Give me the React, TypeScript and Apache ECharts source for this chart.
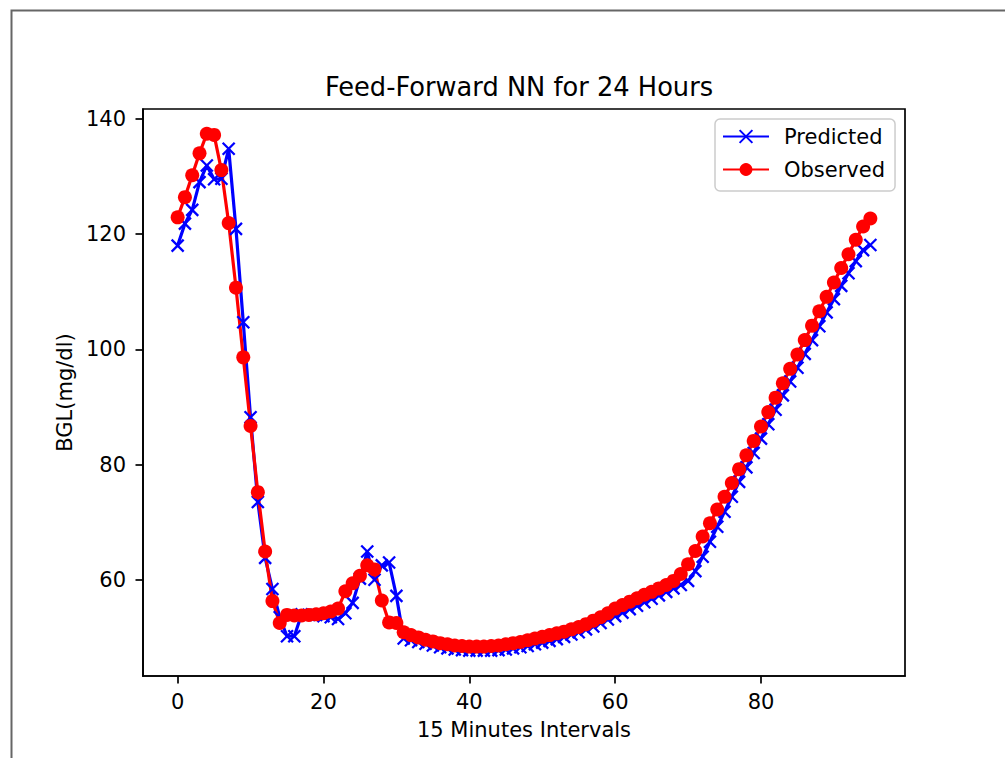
import React, { useEffect, useRef } from "react";
import * as echarts from "echarts";

const intervals: number[] = Array.from({ length: 96 }, (_, i) => i);

const predicted: number[] = [
  118.0, 121.8, 124.2, 129.0, 131.9, 129.5, 129.6, 134.8, 120.9, 104.7,
  88.2, 73.5, 63.8, 58.4, 53.5, 50.2, 50.2, 54.0, 53.9, 53.9,
  53.7, 53.5, 53.2, 54.2, 56.0, 60.2, 64.9, 60.0, 62.5, 63.0,
  57.2, 49.8, 49.5, 49.2, 48.9, 48.6, 48.3, 48.1, 47.9, 47.8,
  47.7, 47.7, 47.7, 47.7, 47.8, 47.9, 48.1, 48.3, 48.5, 48.8,
  49.1, 49.4, 49.7, 50.1, 50.5, 50.9, 51.4, 51.9, 52.5, 53.1,
  53.7, 54.3, 54.9, 55.5, 56.1, 56.7, 57.3, 57.9, 58.5, 59.1,
  59.8, 61.5, 64.0, 66.6, 69.2, 71.8, 74.4, 77.0, 79.5, 82.0,
  84.5, 87.0, 89.5, 92.0, 94.4, 96.8, 99.2, 101.6, 104.0, 106.4,
  108.7, 111.0, 113.2, 115.3, 117.2, 118.1,
];

const observed: number[] = [
  122.9, 126.4, 130.2, 134.0, 137.4, 137.2, 131.1, 121.9, 110.7, 98.6,
  86.7, 75.2, 64.9, 56.3, 52.5, 53.9, 53.8, 53.8, 53.9, 54.0,
  54.2, 54.5, 55.0, 58.0, 59.4, 60.7, 62.5, 61.8, 56.4, 52.6,
  52.5, 50.9, 50.4, 50.0, 49.6, 49.3, 49.0, 48.8, 48.6, 48.5,
  48.4, 48.4, 48.4, 48.5, 48.6, 48.8, 49.0, 49.2, 49.5, 49.8,
  50.1, 50.4, 50.7, 51.0, 51.4, 51.8, 52.3, 52.9, 53.5, 54.2,
  55.0, 55.6, 56.2, 56.8, 57.4, 57.9, 58.5, 59.1, 59.8, 61.0,
  62.7, 65.0, 67.5, 69.8, 72.2, 74.4, 76.8, 79.2, 81.6, 84.1,
  86.6, 89.1, 91.6, 94.1, 96.6, 99.1, 101.6, 104.1, 106.6, 109.1,
  111.6, 114.1, 116.5, 119.0, 121.3, 122.7,
];

const xTicks: number[] = [0, 20, 40, 60, 80];
const yTicks: number[] = [60, 80, 100, 120, 140];

const FONT = "DejaVu Sans";
const X_SYMBOL = "path://M0,0L10,10M10,0L0,10";

export default function App() {
  const ref = useRef<HTMLDivElement>(null);

  useEffect(() => {
    if (!ref.current) return;
    const chart = echarts.init(ref.current, undefined, { renderer: "svg" });
    const axisCommon = {
      axisLine: { show: true, onZero: false, lineStyle: { color: "#000", width: 1.7 } },
      axisTick: { show: true, length: 7.5, lineStyle: { color: "#000", width: 1.7 } },
      splitLine: { show: false },
      nameTextStyle: { fontFamily: FONT, fontSize: 21, color: "#000" },
    };
    chart.setOption({
      animation: false,
      backgroundColor: "#fff",
      textStyle: { fontFamily: FONT },
      title: {
        text: "Feed-Forward NN for 24 Hours",
        left: 514,
        top: 69,
        textAlign: "center",
        textStyle: { fontFamily: FONT, fontSize: 25.7, fontWeight: "normal", color: "#000" },
      },
      grid: {
        left: 143,
        top: 109,
        width: 762,
        height: 567,
        show: true,
        borderColor: "#000",
        borderWidth: 1.7,
        backgroundColor: "#fff",
        containLabel: false,
      },
      legend: {
        orient: "vertical",
        left: 715,
        top: 119,
        padding: [7, 10, 11, 7],
        itemWidth: 46,
        itemHeight: 16,
        itemGap: 12,
        backgroundColor: "rgba(255,255,255,0.8)",
        borderColor: "#cccccc",
        borderWidth: 1.5,
        borderRadius: 5,
        textStyle: { fontFamily: FONT, fontSize: 21, color: "#000", padding: [0, 0, 0, 10] },
        data: ["Predicted", "Observed"],
      },
      xAxis: {
        type: "value",
        min: -4.75,
        max: 99.75,
        name: "15 Minutes Intervals",
        nameLocation: "middle",
        nameGap: 43,
        ...axisCommon,
        axisTick: { ...axisCommon.axisTick, customValues: xTicks },
        axisLabel: {
          customValues: xTicks,
          margin: 15,
          fontFamily: FONT,
          fontSize: 21,
          color: "#000",
        },
      },
      yAxis: {
        type: "value",
        min: 43.3,
        max: 141.7,
        name: "BGL(mg/dl)",
        nameLocation: "middle",
        nameGap: 60,
        ...axisCommon,
        axisTick: { ...axisCommon.axisTick, customValues: yTicks },
        axisLabel: {
          customValues: yTicks,
          margin: 17,
          fontFamily: FONT,
          fontSize: 21,
          color: "#000",
        },
      },
      series: [
        {
          name: "Predicted",
          type: "line",
          data: intervals.map((x, i) => [x, predicted[i]]),
          symbol: X_SYMBOL,
          symbolSize: 12,
          showAllSymbol: true,
          lineStyle: { color: "#0000ff", width: 3.2 },
          itemStyle: { color: "#0000ff", borderColor: "#0000ff", borderWidth: 2.3 },
          emphasis: { disabled: true },
          silent: true,
        },
        {
          name: "Observed",
          type: "line",
          data: intervals.map((x, i) => [x, observed[i]]),
          symbol: "circle",
          symbolSize: 14,
          showAllSymbol: true,
          lineStyle: { color: "#ff0000", width: 3.2 },
          itemStyle: { color: "#ff0000", borderWidth: 0 },
          emphasis: { disabled: true },
          silent: true,
        },
      ],
      graphic: [
        {
          type: "rect",
          left: 9,
          top: 8,
          shape: { x: 0, y: 0, width: 1100, height: 1000 },
          style: { fill: "none", stroke: "#666666", lineWidth: 2 },
          silent: true,
          z: -10,
        },
      ],
    });
    return () => chart.dispose();
  }, []);

  return (
    <div
      ref={ref}
      style={{ position: "absolute", left: 0, top: 0, width: 1005, height: 758 }}
    />
  );
}
